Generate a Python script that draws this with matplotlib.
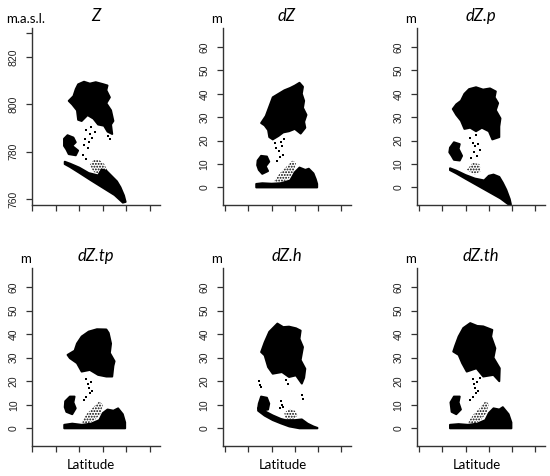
import matplotlib
matplotlib.use("Agg")
import matplotlib.pyplot as plt
import matplotlib.transforms as mtransforms

plt.rcParams['hatch.linewidth'] = 0.9

# x is in latitude tick units (the panels show 6 unlabeled ticks, 0..5)
XTICKS = [0, 1, 2, 3, 4, 5]

# ---- Z (m a.s.l.) ----
Z_CROWN = [(1.55, 801.5), (1.75, 803.5), (1.85, 806.5), (1.95, 808.5), (2.2, 809.6), (2.45, 808.8),
           (2.7, 809.4), (3.0, 808.6), (3.2, 808.0), (3.15, 806.0), (3.3, 803.0), (3.15, 800.5),
           (3.35, 797.5), (3.45, 793.0), (3.35, 791.5), (3.4, 787.5), (3.2, 788.5), (3.05, 791.0),
           (2.8, 791.5), (2.6, 794.0), (2.35, 795.5), (2.1, 793.0), (1.95, 793.5), (1.9, 797.5), (1.7, 800.0)]
Z_SMALL = [(1.35, 785.5), (1.5, 787.0), (1.75, 786.0), (1.85, 784.0), (1.7, 782.5), (1.95, 780.5),
           (1.85, 778.5), (1.55, 779.0), (1.45, 781.0), (1.35, 782.5)]
Z_GROUND = [(1.38, 775.8), (1.6, 775.0), (2.0, 773.3), (2.4, 771.0), (2.8, 770.0), (2.95, 772.5),
            (3.15, 772.0), (3.4, 769.5), (3.6, 767.5), (3.75, 765.0), (3.9, 761.5), (3.97, 758.8),
            (3.85, 758.5), (3.5, 761.7), (3.0, 764.8), (2.5, 767.9), (2.0, 771.1), (1.6, 773.6), (1.38, 774.8)]
Z_MID = [(2.45, 774.5), (2.6, 776.5), (2.85, 776.5), (3.05, 775.0), (3.2, 772.0), (2.9, 770.5), (2.6, 771.5)]
Z_DOTS = [(2.3, 789.0), (2.45, 787.5), (2.25, 785.5), (2.4, 784.0), (2.55, 786.0), (2.35, 781.5),
          (2.2, 783.0), (2.5, 790.5), (2.65, 788.5), (2.15, 778.5), (2.3, 777.0), (3.2, 786.5), (3.3, 785.5)]

# ---- dZ ----
DZ_CROWN = [(1.55, 27.5), (1.75, 30.5), (1.9, 34.5), (2.05, 38.5), (2.3, 40.0), (2.55, 41.5), (2.8, 42.5),
            (3.0, 43.5), (3.2, 44.7), (3.35, 43.0), (3.3, 40.0), (3.4, 37.0), (3.35, 34.0), (3.5, 31.0),
            (3.4, 28.0), (3.45, 25.5), (3.25, 23.0), (3.0, 25.0), (2.75, 24.0), (2.5, 23.5), (2.3, 22.0),
            (2.05, 20.5), (1.9, 21.5), (1.85, 24.5), (1.7, 26.5)]
DZ_SMALL = [(1.4, 11.5), (1.55, 13.5), (1.8, 13.2), (1.9, 11.0), (1.75, 9.0), (1.85, 7.0), (1.6, 5.8),
            (1.45, 7.5), (1.38, 9.5)]
DZ_GROUND = [(1.34, 0.0), (1.34, 1.5), (1.6, 1.8), (2.0, 1.6), (2.4, 1.8), (2.8, 3.0), (3.0, 6.5),
             (3.2, 8.5), (3.45, 7.5), (3.6, 8.0), (3.8, 6.0), (3.9, 3.5), (3.96, 1.5), (3.96, 0.0)]
DZ_MID = [(2.1, 2.5), (2.35, 6.0), (2.6, 8.5), (2.9, 11.5), (3.05, 10.5), (2.95, 6.5), (2.7, 3.5), (2.4, 2.0)]
DZ_DOTS = [(2.15, 19.0), (2.2, 17.0), (2.3, 15.5), (2.35, 13.0), (2.25, 11.5), (2.45, 17.5),
           (2.5, 14.0), (2.1, 21.0), (2.55, 20.5), (2.4, 19.5)]

# ---- dZ.p ----
DZP_CROWN = [(1.45, 33.5), (1.6, 35.5), (1.8, 37.0), (1.95, 40.0), (2.15, 42.0), (2.45, 42.8), (2.75, 41.8),
             (3.05, 42.3), (3.3, 41.0), (3.25, 38.5), (3.4, 36.0), (3.3, 33.0), (3.5, 29.5), (3.45, 26.0),
             (3.45, 21.5), (3.15, 20.5), (3.0, 24.0), (2.7, 25.5), (2.45, 24.0), (2.2, 25.5), (1.95, 25.0),
             (1.8, 28.5), (1.6, 31.0)]
DZP_SMALL = [(1.33, 17.0), (1.5, 19.3), (1.75, 18.5), (1.7, 16.5), (1.85, 13.5), (1.75, 11.5),
             (1.5, 11.8), (1.4, 13.5), (1.3, 15.0)]
DZP_GROUND = [(1.33, 8.2), (1.6, 7.2), (2.0, 5.3), (2.4, 3.8), (2.8, 3.0), (3.0, 5.0), (3.2, 5.5),
              (3.45, 4.5), (3.6, 2.0), (3.75, -1.0), (3.9, -5.0), (3.95, -7.3), (3.85, -7.3),
              (3.5, -4.7), (3.0, -1.9), (2.5, 0.9), (2.0, 3.7), (1.6, 6.0), (1.33, 7.4)]
DZP_MID = [(2.05, 7.5), (2.3, 10.5), (2.6, 10.0), (2.65, 7.0), (2.4, 5.5)]
DZP_DOTS = [(2.2, 21.0), (2.3, 19.0), (2.4, 17.5), (2.35, 15.0), (2.5, 13.5), (2.25, 12.5),
            (2.55, 18.5), (2.45, 22.5), (2.6, 16.0)]

# ---- dZ.tp ----
DZTP_CROWN = [(1.5, 31.2), (1.8, 33.0), (1.9, 36.0), (2.1, 39.0), (2.4, 41.1), (2.75, 42.1), (3.15, 42.0),
              (3.25, 40.5), (3.35, 36.0), (3.3, 32.0), (3.5, 28.5), (3.45, 26.5), (3.4, 22.0), (3.15, 22.0),
              (2.8, 22.7), (2.45, 24.8), (2.1, 24.1), (1.9, 27.7), (1.6, 29.8)]
DZTP_SMALL = [(1.4, 11.5), (1.6, 13.5), (1.8, 13.5), (1.75, 11.0), (1.85, 8.5), (1.7, 6.0),
              (1.45, 7.0), (1.38, 9.0)]
DZTP_GROUND = [(1.36, 0.0), (1.36, 1.5), (1.7, 2.0), (2.1, 1.5), (2.5, 2.0), (2.85, 3.5), (3.0, 6.5),
               (3.2, 8.0), (3.45, 7.5), (3.65, 8.5), (3.85, 6.0), (3.95, 2.5), (3.95, 0.0)]
DZTP_MID = [(2.1, 2.5), (2.3, 6.0), (2.55, 8.5), (2.85, 11.5), (3.0, 10.0), (2.9, 6.0), (2.65, 3.5), (2.35, 2.0)]
DZTP_DOTS = [(2.3, 21.0), (2.35, 19.0), (2.4, 17.0), (2.45, 15.0), (2.3, 13.5), (2.5, 19.5),
             (2.55, 16.0), (2.2, 12.0)]

# ---- dZ.h ----
DZH_CROWN = [(1.55, 32.4), (1.7, 36.5), (1.9, 41.0), (2.25, 44.5), (2.5, 43.0), (2.75, 43.2), (3.05, 42.5),
             (3.25, 41.5), (3.2, 38.0), (3.35, 34.5), (3.25, 29.0), (3.45, 25.3), (3.4, 21.5), (3.3, 19.0),
             (3.05, 22.5), (2.75, 21.8), (2.45, 23.9), (2.05, 23.2), (1.85, 26.0), (1.7, 31.0)]
DZH_SMALL = [(1.45, 10.5), (1.55, 13.5), (1.8, 13.0), (1.9, 10.5), (1.85, 8.0), (1.6, 7.5), (1.42, 8.5)]
DZH_GROUND = [(1.42, 8.6), (1.7, 7.3), (2.05, 5.5), (2.4, 4.0), (2.6, 3.5), (3.0, 3.5), (3.3, 3.8),
              (3.55, 2.0), (3.8, 0.8), (3.97, 0.2), (3.97, 0.0), (3.2, 0.0), (2.76, 0.8), (2.4, 2.1),
              (2.05, 3.5), (1.7, 5.4), (1.42, 7.5)]
DZH_MID = [(2.55, 6.5), (2.75, 8.3), (3.0, 7.5), (3.12, 5.5), (2.95, 3.8), (2.6, 4.0)]
DZH_DOTS = [(1.45, 20.0), (1.5, 18.5), (1.55, 17.5), (2.4, 11.5), (2.45, 10.0), (2.35, 8.5),
            (2.5, 9.0), (3.3, 14.0), (3.35, 12.5), (2.6, 20.5), (2.7, 19.0)]

# ---- dZ.th ----
DZTH_CROWN = [(1.47, 32.6), (1.55, 35.0), (1.7, 39.0), (1.9, 42.6), (2.2, 44.7), (2.5, 43.5), (2.76, 43.3),
              (3.15, 41.8), (3.1, 39.0), (3.28, 34.0), (3.2, 30.0), (3.47, 25.5), (3.45, 20.0), (3.2, 22.7),
              (2.76, 22.0), (2.47, 25.5), (2.05, 24.1), (1.85, 27.7), (1.7, 31.2)]
DZTH_SMALL = [(1.35, 11.0), (1.5, 13.5), (1.75, 13.5), (1.7, 11.0), (1.8, 8.0), (1.6, 6.0), (1.4, 7.0)]
DZTH_GROUND = [(1.33, 0.0), (1.33, 1.5), (1.7, 1.8), (2.1, 1.5), (2.5, 2.0), (2.85, 3.5), (3.0, 6.5),
               (3.2, 8.5), (3.45, 8.0), (3.6, 9.0), (3.85, 6.0), (3.97, 2.5), (3.97, 0.0)]
DZTH_MID = [(2.1, 2.5), (2.35, 6.0), (2.6, 8.5), (2.85, 11.5), (3.0, 10.5), (2.9, 6.5), (2.65, 3.5), (2.4, 2.0)]
DZTH_DOTS = [(2.3, 21.0), (2.35, 19.0), (2.4, 17.0), (2.45, 15.0), (2.3, 13.5), (2.5, 19.5),
             (2.55, 16.0), (2.2, 12.0), (2.6, 21.5)]

TITLES = ['Z', 'dZ', 'dZ.p', 'dZ.tp', 'dZ.h', 'dZ.th']
UNITS = ['m.a.s.l.', 'm', 'm', 'm', 'm', 'm']
Z_YTICKS = [760, 780, 800, 820, 830]
Z_YLABELS = ['760', '780', '800', '820', '']
DZ_YTICKS = [0, 10, 20, 30, 40, 50, 60]

panels = [
    (Z_CROWN, Z_SMALL, Z_GROUND, Z_MID, Z_DOTS),
    (DZ_CROWN, DZ_SMALL, DZ_GROUND, DZ_MID, DZ_DOTS),
    (DZP_CROWN, DZP_SMALL, DZP_GROUND, DZP_MID, DZP_DOTS),
    (DZTP_CROWN, DZTP_SMALL, DZTP_GROUND, DZTP_MID, DZTP_DOTS),
    (DZH_CROWN, DZH_SMALL, DZH_GROUND, DZH_MID, DZH_DOTS),
    (DZTH_CROWN, DZTH_SMALL, DZTH_GROUND, DZTH_MID, DZTH_DOTS),
]

W, H = 550, 476
fig = plt.figure(figsize=(W / 100, H / 100), dpi=100)

lefts = [32, 222.7, 416.7]
width = 128
rows = [(205, 177), (446, 178)]   # (bottom px from top, height px)
xlims = [(-0.01, 5.43), (-0.1, 5.4), (-0.1, 5.4)]

for i, (crown, small, ground, mid, dots) in enumerate(panels):
    r, c = divmod(i, 3)
    bottom, h = rows[r]
    ax = fig.add_axes([lefts[c] / W, (H - bottom) / H, width / W, h / H])

    # dense parts of the point cloud
    for poly in (crown, small, ground):
        xs, ys = zip(*poly)
        ax.fill(xs, ys, facecolor='black', edgecolor='black', lw=1.4, joinstyle='round')
    # sparse understory
    xs, ys = zip(*mid)
    ax.fill(xs, ys, facecolor='none', edgecolor='black', lw=0, hatch='......')
    xs, ys = zip(*dots)
    ax.scatter(xs, ys, s=1.2, c='black', marker='s', lw=0)

    ax.set_xlim(*xlims[c])
    if i == 0:
        ax.set_ylim(757.5, 832.3)
        ax.set_yticks(Z_YTICKS)
        ax.set_yticklabels(Z_YLABELS)
    else:
        ax.set_ylim(-7.5, 68.1)
        ax.set_yticks(DZ_YTICKS)
    ax.set_xticks(XTICKS)
    ax.set_xticklabels([])

    for s in ('top', 'right'):
        ax.spines[s].set_visible(False)
    for s in ('left', 'bottom'):
        ax.spines[s].set_color('#333333')
        ax.spines[s].set_linewidth(1.0)
    ax.tick_params(direction='out', length=4, width=0.9, color='#333333')
    ax.tick_params(axis='y', labelsize=7.5, labelcolor='#222222', pad=5.5)
    for lab in ax.get_yticklabels():
        lab.set_rotation(90)
        lab.set_va('center')
        lab.set_family('Liberation Sans')

    ax.annotate(TITLES[i], xy=(0.5, 1), xycoords='axes fraction', xytext=(0, 8.5),
                textcoords='offset points', ha='center', va='center',
                fontsize=12, style='italic', family='Lato')
    ax.annotate(UNITS[i], xy=(0, 1), xycoords='axes fraction', xytext=(-4.5, 6.5),
                textcoords='offset points', ha='center', va='center',
                fontsize=9.5, family='Lato')
    if r == 1:
        trans = mtransforms.blended_transform_factory(ax.transData, ax.transAxes)
        ax.annotate('Latitude', xy=(2.5, 0), xycoords=trans, xytext=(0, -14),
                    textcoords='offset points', ha='center', va='center',
                    fontsize=9.5, family='Lato')

fig.savefig('out.png', dpi=100)
